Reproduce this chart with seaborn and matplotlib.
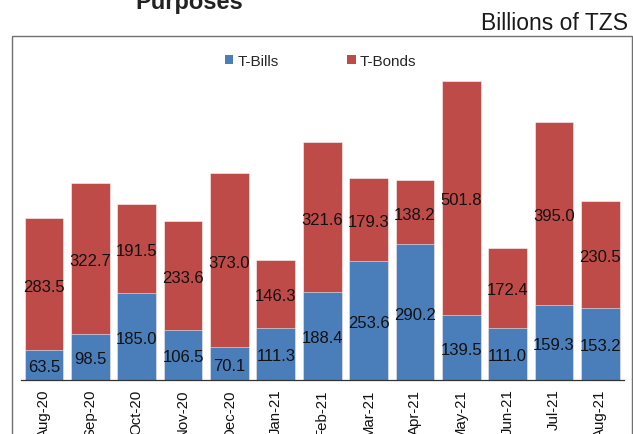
import matplotlib
matplotlib.use("Agg")
import matplotlib.pyplot as plt
import matplotlib.patches as mpatches
import seaborn as sns
import pandas as pd

months = ["Aug-20", "Sep-20", "Oct-20", "Nov-20", "Dec-20", "Jan-21", "Feb-21",
          "Mar-21", "Apr-21", "May-21", "Jun-21", "Jul-21", "Aug-21"]
t_bills = [63.5, 98.5, 185.0, 106.5, 70.1, 111.3, 188.4, 253.6, 290.2, 139.5, 111.0, 159.3, 153.2]
t_bonds = [283.5, 322.7, 191.5, 233.6, 373.0, 146.3, 321.6, 179.3, 138.2, 501.8, 172.4, 395.0, 230.5]
series_names = ["T-Bills", "T-Bonds"]
unit_label = "Billions of TZS"
title_text = "Purposes"

BLUE = "#4A7EBB"
RED = "#BE4B48"

sns.set_theme(style="white")
plt.rcParams["font.family"] = ["Liberation Sans", "DejaVu Sans"]

df = pd.DataFrame({"month": months, "bills": t_bills, "bonds": t_bonds})
df["total"] = df["bills"] + df["bonds"]

W, H = 633, 435
fig = plt.figure(figsize=(W / 100, H / 100), dpi=100)
fig.patch.set_facecolor("white")

ax_left, ax_right, ax_bot, ax_top = 20.8, 623.5, 380.5, 37.0
ax = fig.add_axes([ax_left / W, (H - ax_bot) / H, (ax_right - ax_left) / W, (ax_bot - ax_top) / H])
ax.set_facecolor("none")

edge = (1, 1, 1, 0.6)
sns.barplot(data=df, x="month", y="total", color=RED, saturation=1, width=0.835,
            edgecolor=edge, linewidth=0.6, ax=ax)
sns.barplot(data=df, x="month", y="bills", color=BLUE, saturation=1, width=0.835,
            edgecolor=edge, linewidth=0.6, ax=ax)

ax.set_xlim(-0.5, len(months) - 0.5)
ax.set_ylim(0, 738)
ax.set_xlabel("")
ax.set_ylabel("")
ax.set_yticks([])

for s in ["left", "top", "right"]:
    ax.spines[s].set_visible(False)
ax.spines["bottom"].set_color("#333333")
ax.spines["bottom"].set_linewidth(0.9)

ax.set_xticks(range(len(months)))
ax.set_xticklabels(months, rotation=90, fontsize=10.8, color="#111111")
ax.tick_params(axis="x", which="major", length=0, pad=6.5)
ax.set_xticks([i - 0.5 for i in range(len(months) + 1)], minor=True)
ax.tick_params(axis="x", which="minor", length=3.0, width=0.8, color="#333333", direction="out")

for i, (b, d) in enumerate(zip(t_bills, t_bonds)):
    ax.annotate(f"{b:.1f}", (i, b / 2), xytext=(0, -1.5), textcoords="offset points",
                ha="center", va="center", fontsize=12, color="#111111")
    ax.annotate(f"{d:.1f}", (i, b + d / 2), xytext=(0, -1.5), textcoords="offset points",
                ha="center", va="center", fontsize=12, color="#111111")

handles = [mpatches.Patch(facecolor=BLUE, edgecolor="none"),
           mpatches.Patch(facecolor=RED, edgecolor="none")]
fig.legend(handles, series_names, loc="center", bbox_to_anchor=(320.5 / W, 1 - 62 / H),
           ncol=2, frameon=False, fontsize=11, handlelength=0.55, handleheight=0.55,
           handletextpad=0.25, columnspacing=4.5, borderpad=0)

fig.text(189 / W, 1 - 9 / H, title_text, ha="center", va="baseline", fontsize=17,
         fontweight="bold", color="#222222")
fig.text(628 / W, 1 - 29.5 / H, unit_label, ha="right", va="baseline", fontsize=16.5,
         color="#1a1a1a")

frame = mpatches.Rectangle((12.3 / W, -0.05), (632.3 - 12.3) / W, (H - 36.7) / H + 0.05,
                           transform=fig.transFigure, fill=False, edgecolor="#707070",
                           linewidth=1.0, clip_on=False)
fig.add_artist(frame)

fig.savefig("out.png", dpi=100)
